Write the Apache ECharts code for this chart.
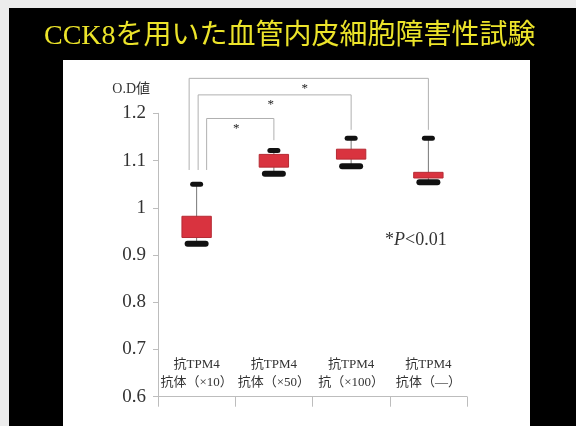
<!DOCTYPE html>
<html>
<head>
<meta charset="utf-8">
<script src="https://cdn.jsdelivr.net/npm/echarts@6/dist/echarts.min.js"></script>
<style>
  html, body { margin: 0; padding: 0; background: #000; }
  #chart { width: 576px; height: 426px; }
</style>
</head>
<body>
<div id="chart"></div>
<script>
// Groups (anti-TPM4 antibody dilutions)
const categories = [
  '抗TPM4\n抗体（×10）',
  '抗TPM4\n抗体（×50）',
  '抗TPM4\n抗（×100）',
  '抗TPM4\n抗体（—）'
];
// O.D values per group: whisker ends and box edges
const lowValues  = [0.924, 1.072, 1.088, 1.054];
const q1Values   = [0.937, 1.086, 1.103, 1.063];
const q3Values   = [0.982, 1.113, 1.124, 1.075];
const highValues = [1.050, 1.121, 1.147, 1.147];

// Y axis range and ticks
const yMin = 0.6, yMax = 1.2, yStep = 0.1;

// Significance brackets: first group vs others
const bracketFrom   = [0, 0, 0];
const bracketTo     = [1, 2, 3];
const bracketTop    = [1.189, 1.239, 1.274];
const leftLegEnd    = [1.080, 1.080, 1.080];
const rightLegEnd   = [1.143, 1.165, 1.165];
const bracketMark   = ['*', '*', '*'];

const boxData = categories.map((c, i) => [i, lowValues[i], q1Values[i], q3Values[i], highValues[i]]);
const bracketData = bracketFrom.map((f, i) => [f, bracketTo[i], bracketTop[i], leftLegEnd[i], rightLegEnd[i]]);

const SERIF = '"Liberation Serif", "Times New Roman", "Noto Sans CJK JP", serif';
const LEG_SHIFT = [10, 1.5, -7.5]; // px nudges so nested bracket legs don't overlap

function renderBox(params, api) {
  const x = api.value(0);
  const pLow = api.coord([x, api.value(1)]);
  const pQ1 = api.coord([x, api.value(2)]);
  const pQ3 = api.coord([x, api.value(3)]);
  const pHigh = api.coord([x, api.value(4)]);
  const bw = api.size([1, 0])[0] * 0.38;
  const cx = pLow[0];
  return {
    type: 'group',
    children: [
      { type: 'line', shape: { x1: cx, y1: pHigh[1], x2: cx, y2: pLow[1] },
        style: { stroke: '#777', lineWidth: 1 } },
      { type: 'rect', shape: { x: cx - bw / 2, y: pQ3[1], width: bw, height: pQ1[1] - pQ3[1] },
        style: { fill: '#d9333f', stroke: '#b52a33', lineWidth: 1 } },
      { type: 'rect', shape: { x: cx - 6.5, y: pHigh[1] - 2.5, width: 13, height: 5, r: 2.5 },
        style: { fill: '#111' } },
      { type: 'rect', shape: { x: cx - 12, y: pLow[1] - 3, width: 24, height: 6, r: 3 },
        style: { fill: '#111' } }
    ]
  };
}

function renderBracket(params, api) {
  const i = params.dataIndex;
  const a = api.value(0), b = api.value(1);
  const top = api.value(2);
  const pL = api.coord([a, top]);
  const pR = api.coord([b, top]);
  const lx = pL[0] + LEG_SHIFT[i];
  const rx = pR[0];
  const yTop = pL[1];
  const yL = api.coord([a, api.value(3)])[1];
  const yR = api.coord([b, api.value(4)])[1];
  return {
    type: 'group',
    children: [
      { type: 'polyline', shape: { points: [[lx, yL], [lx, yTop], [rx, yTop], [rx, yR]] },
        style: { stroke: '#b0b0b0', lineWidth: 1, fill: null } },
      { type: 'text', x: (lx + rx) / 2 - 4, y: yTop + 10,
        style: { text: bracketMark[i], fill: '#222', font: '13px ' + SERIF, align: 'center', verticalAlign: 'middle' } }
    ]
  };
}

const chart = echarts.init(document.getElementById('chart'), null, { renderer: 'canvas' });
chart.setOption({
  backgroundColor: '#000',
  animation: false,
  graphic: [
    { type: 'rect', z: -10, shape: { x: 0, y: 0, width: 576, height: 8 }, style: { fill: '#ececec' } },
    { type: 'rect', z: -10, shape: { x: 0, y: 0, width: 9, height: 426 }, style: { fill: '#ececec' } },
    { type: 'rect', z: -10, shape: { x: 63, y: 60, width: 467, height: 366 }, style: { fill: '#fff' } },
    { type: 'text', left: 44, top: 23,
      style: { text: 'CCK8を用いた血管内皮細胞障害性試験', fill: '#ece42a',
               font: '28px ' + SERIF } },
    { type: 'text', left: 385, top: 231,
      style: { text: '*{i|P}<0.01', fill: '#333', font: '18px ' + SERIF,
               rich: { i: { fontStyle: 'italic', fontSize: 18, fontFamily: SERIF, fill: '#333' } } } }
  ],
  grid: { left: 158, right: 109, top: 113.3, bottom: 29.3 },
  xAxis: {
    type: 'category',
    data: categories,
    boundaryGap: true,
    axisLine: { lineStyle: { color: '#bdbdbd' } },
    axisTick: { show: true, length: 10, alignWithLabel: false, lineStyle: { color: '#bdbdbd' } },
    axisLabel: { inside: true, margin: 5, color: '#333', fontSize: 13, lineHeight: 18,
                 fontFamily: SERIF, interval: 0 },
    splitLine: { show: false }
  },
  yAxis: {
    type: 'value',
    min: yMin, max: yMax, interval: yStep,
    name: 'O.D値',
    nameLocation: 'end',
    nameGap: 17,
    nameTextStyle: { color: '#333', fontSize: 14, fontFamily: SERIF, align: 'right', padding: [0, 8, 0, 0] },
    axisLine: { show: true, lineStyle: { color: '#bdbdbd' } },
    axisTick: { show: true, length: 5, lineStyle: { color: '#bdbdbd' } },
    axisLabel: { color: '#333', fontSize: 19, fontFamily: SERIF, margin: 12 },
    splitLine: { show: false }
  },
  series: [
    { type: 'custom', name: 'box', renderItem: renderBox, data: boxData, clip: false, z: 3 },
    { type: 'custom', name: 'brackets', renderItem: renderBracket, data: bracketData, clip: false, z: 2 }
  ]
});
</script>
</body>
</html>
